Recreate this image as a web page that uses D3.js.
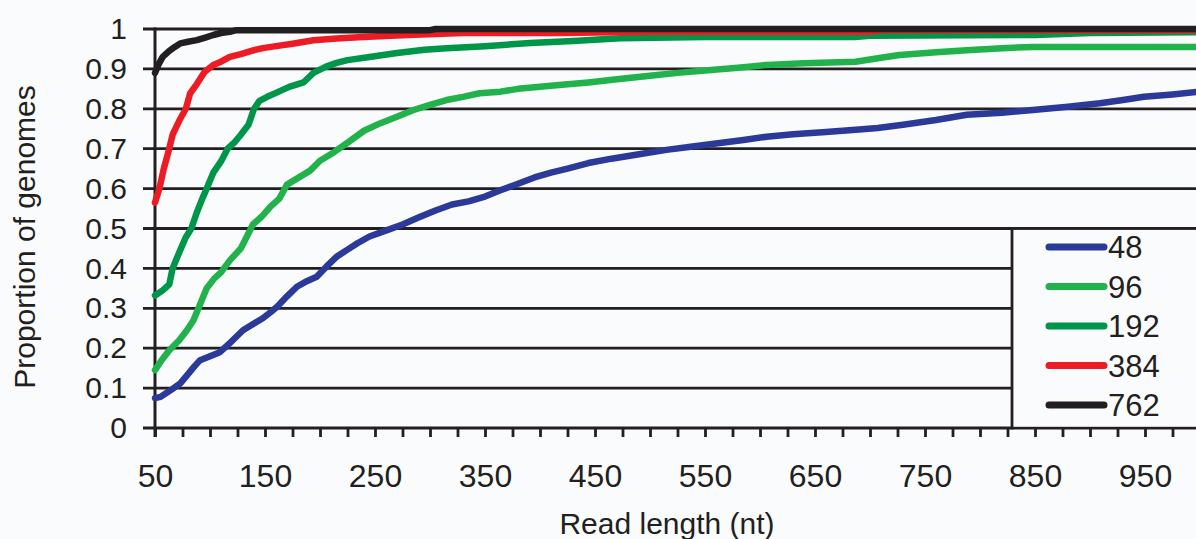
<!DOCTYPE html>
<html>
<head>
<meta charset="utf-8">
<script src="https://cdn.jsdelivr.net/npm/d3@7"></script>
<style>
  html, body { margin: 0; padding: 0; background: #fafbfd; }
  svg { display: block; }
  text { font-family: "Liberation Sans", Arial, Helvetica, sans-serif; fill: #231f20; }
</style>
</head>
<body>
<svg id="chart" width="1196" height="539"></svg>
<script>
// Cumulative proportion of genomes reached at each read length (nt),
// one curve per number of genomes sampled.
const seriesNames = ["48", "96", "192", "384", "762"];
const seriesColors = ["#2b3a98", "#22b24c", "#00964a", "#ed1c24", "#231f20"];

const series48 = [
  [50,.075],[55,.078],[60,.087],[66,.098],[73,.112],[80,.135],[86,.155],[91,.17],[100,.18],
  [109,.19],[118,.213],[130,.245],[140,.262],[148,.275],[155,.29],[161,.304],[170,.33],
  [179,.354],[188,.368],[197,.379],[206,.405],[215,.429],[225,.447],[234,.463],[245,.48],
  [261,.496],[275,.51],[290,.528],[305,.545],[320,.56],[335,.568],[350,.58],[364,.596],
  [380,.612],[395,.628],[410,.64],[425,.65],[444,.664],[465,.675],[490,.686],[515,.697],
  [537,.705],[560,.713],[585,.722],[606,.73],[630,.736],[660,.742],[690,.748],[707,.752],
  [730,.76],[760,.772],[788,.785],[820,.79],[848,.797],[880,.805],[909,.814],[930,.822],
  [949,.83],[975,.836],[1000,.843]
];
const series96 = [
  [50,.145],[56,.17],[63,.195],[72,.22],[79,.245],[85,.27],[91,.31],[97,.35],[104,.375],
  [110,.39],[118,.42],[128,.45],[139,.51],[147,.53],[155,.555],[163,.575],[170,.61],
  [179,.625],[191,.645],[200,.67],[212,.69],[225,.715],[240,.745],[255,.764],[270,.78],
  [285,.797],[300,.81],[315,.822],[330,.83],[345,.839],[364,.843],[380,.85],[400,.855],
  [420,.86],[444,.866],[470,.874],[500,.883],[525,.89],[550,.896],[580,.903],[606,.91],
  [640,.914],[687,.918],[710,.928],[727,.935],[760,.942],[788,.947],[820,.952],[848,.955],
  [900,.955],[950,.955],[1000,.955]
];
const series192 = [
  [50,.332],[57,.345],[63,.36],[66,.4],[72,.44],[78,.478],[83,.5],[88,.54],[93,.575],
  [97,.6],[103,.64],[110,.668],[116,.7],[122,.715],[128,.735],[135,.76],[140,.8],[145,.82],
  [152,.83],[160,.84],[172,.855],[185,.866],[194,.89],[205,.905],[215,.915],[225,.922],
  [245,.93],[270,.94],[295,.948],[315,.952],[350,.957],[391,.965],[430,.97],[473,.977],
  [550,.98],[686,.98],[700,.983],[850,.985],[900,.99],[1000,.992]
];
const series384 = [
  [50,.565],[54,.6],[58,.65],[62,.69],[66,.735],[72,.77],[78,.8],[82,.839],[88,.862],
  [95,.892],[103,.91],[110,.918],[118,.93],[128,.937],[140,.947],[148,.952],[160,.957],
  [175,.963],[194,.972],[215,.976],[239,.98],[280,.985],[330,.99],[420,.99],[500,.993],
  [700,.993],[710,.997],[1000,.997]
];
const series762 = [
  [50,.89],[53,.91],[57,.93],[63,.945],[68,.955],[73,.964],[80,.968],[88,.972],[95,.978],
  [103,.985],[110,.99],[118,.993],[124,.997],[300,.997],[305,1],[1000,1]
];
const allSeries = [series48, series96, series192, series384, series762];

// Axis ticks
const xTicks = d3.range(50, 1001, 25);
const xLabelled = [50, 150, 250, 350, 450, 550, 650, 750, 850, 950];
const yTicks = [0, 0.1, 0.2, 0.3, 0.4, 0.5, 0.6, 0.7, 0.8, 0.9, 1];

const W = 1196, H = 539;
const svg = d3.select("#chart");

const x = d3.scaleLinear().domain([50, 1000]).range([155, 1200]);
const y = d3.scaleLinear().domain([0, 1]).range([428, 29]);

// Horizontal grid lines (the one at 0 doubles as the x axis line)
svg.append("g")
  .selectAll("line")
  .data(yTicks)
  .join("line")
  .attr("x1", 143).attr("x2", W + 5)
  .attr("y1", d => y(d)).attr("y2", d => y(d))
  .attr("stroke", "#231f20").attr("stroke-width", 2.8);

// Legend panel covers the grid in the lower right
const legendLeft = 1012;
svg.append("rect")
  .attr("x", legendLeft).attr("y", y(0.5) + 1.4)
  .attr("width", W - legendLeft + 10).attr("height", y(0) - y(0.5) - 2.8)
  .attr("fill", "#fafbfd");
svg.append("line")
  .attr("x1", legendLeft).attr("x2", legendLeft)
  .attr("y1", y(0.5) - 1.4).attr("y2", y(0) + 1.4)
  .attr("stroke", "#231f20").attr("stroke-width", 2.8);

// Y axis
const yAxis = svg.append("g")
  .attr("transform", "translate(155,0)")
  .call(d3.axisLeft(y)
    .tickValues(yTicks)
    .tickSize(12)
    .tickPadding(16)
    .tickFormat(d => (d === 0 || d === 1) ? String(d) : d3.format(".1f")(d)));
yAxis.select(".domain").remove();
yAxis.selectAll(".tick line").remove();
yAxis.selectAll(".tick text")
  .attr("font-size", 30)
  .attr("font-family", "'Liberation Sans', Arial, sans-serif")
  .attr("fill", "#231f20");
svg.append("line")
  .attr("x1", 155).attr("x2", 155)
  .attr("y1", y(1) - 1.4).attr("y2", y(0) + 9)
  .attr("stroke", "#231f20").attr("stroke-width", 3);

// X axis
const xAxis = svg.append("g")
  .attr("transform", "translate(0,428)")
  .call(d3.axisBottom(x)
    .tickValues(xTicks)
    .tickSize(9)
    .tickPadding(27)
    .tickFormat(d => xLabelled.includes(d) ? String(d) : ""));
xAxis.select(".domain").remove();
xAxis.selectAll(".tick line")
  .attr("stroke", "#231f20").attr("stroke-width", 2.8);
xAxis.selectAll(".tick text")
  .attr("font-size", 32)
  .attr("font-family", "'Liberation Sans', Arial, sans-serif")
  .attr("fill", "#231f20");

// Curves
const line = d3.line()
  .x(d => x(d[0]))
  .y(d => y(d[1]))
  .curve(d3.curveLinear);

svg.append("g")
  .selectAll("path")
  .data(allSeries)
  .join("path")
  .attr("d", line)
  .attr("fill", "none")
  .attr("stroke", (d, i) => seriesColors[i])
  .attr("stroke-width", 6.5)
  .attr("stroke-linejoin", "round")
  .attr("stroke-linecap", "round");

// Legend entries
const legendRow = d3.scalePoint().domain(seriesNames).range([247, 405]);
const legend = svg.append("g")
  .selectAll("g")
  .data(seriesNames)
  .join("g")
  .attr("transform", d => `translate(0,${legendRow(d)})`);
legend.append("line")
  .attr("x1", 1049).attr("x2", 1104)
  .attr("y1", 0).attr("y2", 0)
  .attr("stroke", (d, i) => seriesColors[i])
  .attr("stroke-width", 7)
  .attr("stroke-linecap", "round");
legend.append("text")
  .attr("x", 1108).attr("y", 11)
  .attr("font-size", 31)
  .text(d => d);

// Axis titles
svg.append("text")
  .attr("x", 667).attr("y", 534)
  .attr("text-anchor", "middle")
  .attr("font-size", 30)
  .text("Read length (nt)");
svg.append("text")
  .attr("transform", "translate(35,237) rotate(-90)")
  .attr("text-anchor", "middle")
  .attr("font-size", 30)
  .text("Proportion of genomes");
</script>
</body>
</html>
